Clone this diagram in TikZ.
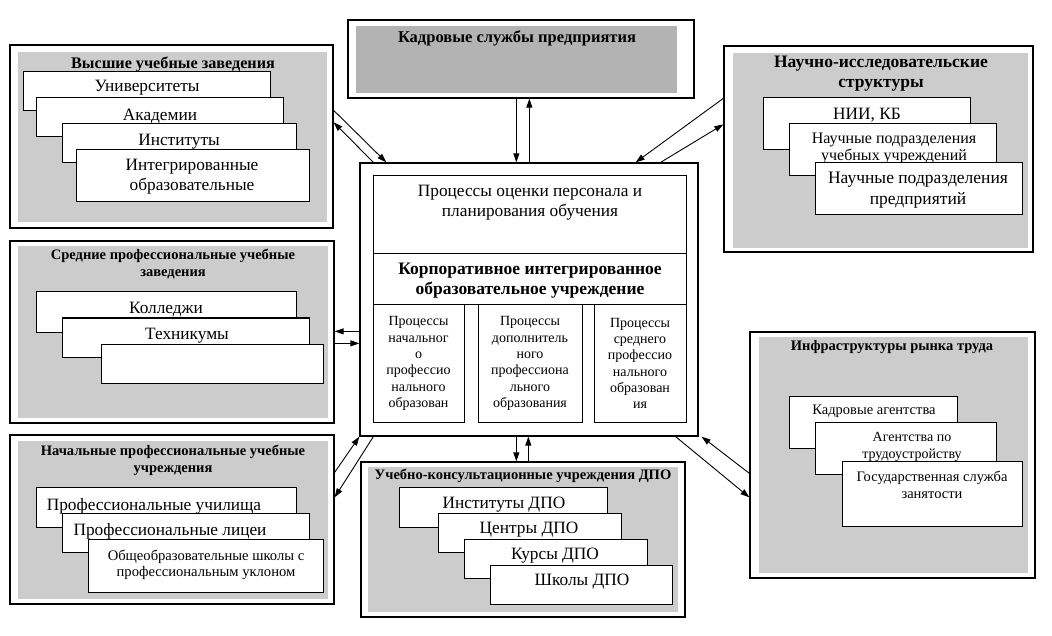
\documentclass[tikz,border=0pt]{standalone}
\usepackage{fontspec}
\setmainfont{Liberation Serif}
\usetikzlibrary{arrows.meta,fit,calc}
\definecolor{lgray}{HTML}{CCCCCC}
\definecolor{dgray}{HTML}{B3B3B3}
\newcommand\FBody{\fontsize{17.3}{20}\selectfont}
\newcommand\FMid{\fontsize{16}{17}\selectfont}
\newcommand\FSmall{\fontsize{14}{16.3}\selectfont}
\newcommand\FHead{\bfseries\fontsize{14.5}{17}\selectfont}
\newcommand\FHeadL{\bfseries\fontsize{17.5}{20}\selectfont}
\begin{document}
\begin{tikzpicture}[x=1pt,y=-1pt,
  outer/.style={draw, line width=1.3pt, fill=white, inner sep=0pt},
  bg/.style={fill=lgray, inner sep=0pt},
  bgd/.style={fill=dgray, inner sep=0pt},
  ibox/.style={draw, line width=1pt, fill=white, inner sep=0pt},
  arr/.style={line width=0.9pt, -{Triangle[length=9pt,width=6pt]}},
  tx/.style={inner sep=0pt, align=center, font=\FBody},
  txm/.style={inner sep=0pt, align=center, font=\FMid},
  txs/.style={inner sep=0pt, align=center, font=\FSmall},
  hd/.style={inner sep=0pt, align=center, font=\FHead},
  hdl/.style={inner sep=0pt, align=center, font=\FHeadL}]
\fill[white] (0,0) rectangle (1052,636);
\useasboundingbox (0,0) rectangle (1052,636);

% ---------- Box 1: higher education ----------
\node[outer, fit={(10,45) (333,228)}] (b1) {};
\node[bg, fit={(18,52) (327,222)}] (b1g) {};
\node[hd, font=\bfseries\fontsize{16.2}{18}\selectfont] (b1h) at (173,64) {Высшие учебные заведения};
\node[ibox, fit={(23,72) (270,111)}] (b1a) {};
\node[tx] (b1at) at (147,88) {Университеты};
\node[ibox, fit={(36,98) (283,137)}] (b1b) {};
\node[tx] (b1bt) at (160,116) {Академии};
\node[ibox, fit={(62,124) (296,163)}] (b1c) {};
\node[tx] (b1ct) at (179,142) {Институты};
\node[ibox, fit={(76,150) (309,202)}] (b1d) {};
\node[tx] (b1dt) at (192,177) {Интегрированные\\образовательные};

% ---------- Box 2: secondary vocational ----------
\node[outer, fit={(10,241) (334,423)}] (b2) {};
\node[bg, fit={(18,246) (328,418)}] (b2g) {};
\node[hd] (b2h) at (173,264) {Средние профессиональные учебные\\заведения};
\node[ibox, fit={(36,292) (296,332)}] (b2a) {};
\node[tx] (b2at) at (166,310) {Колледжи};
\node[ibox, fit={(62,318) (309,357)}] (b2b) {};
\node[tx] (b2bt) at (187,336) {Техникумы};
\node[ibox, fit={(101,344) (323,383)}] (b2c) {};

% ---------- Box 3: initial vocational ----------
\node[outer, fit={(10,435) (334,604)}] (b3) {};
\node[bg, fit={(18,441) (328,599)}] (b3g) {};
\node[hd] (b3h) at (173,460) {Начальные профессиональные учебные\\учреждения};
\node[ibox, fit={(36,487) (296,527)}] (b3a) {};
\node[tx] (b3at) at (154,506) {Профессиональные училища};
\node[ibox, fit={(62,513) (309,552)}] (b3b) {};
\node[tx] (b3bt) at (170,531) {Профессиональные лицеи};
\node[ibox, fit={(88,539) (323,592)}] (b3c) {};
\node[txs, font=\fontsize{14.6}{16}\selectfont] (b3ct) at (206,565) {Общеобразовательные школы с\\профессиональным уклоном};

% ---------- Top: HR services ----------
\node[outer, fit={(348,20) (694,98)}] (kd) {};
\node[bgd, fit={(356,26) (677,93)}] (kdg) {};
\node[hd, font=\bfseries\fontsize{16.5}{18}\selectfont] (kdh) at (517,38) {Кадровые службы предприятия};

% ---------- Center ----------
\node[outer, fit={(360,163) (698,436)}] (c) {};
\node[ibox, fit={(373,176) (686,254)}] (ctop) {};
\node[tx] (ctopt) at (530,203) {Процессы оценки персонала и\\планирования обучения};
\node[ibox, fit={(373,254) (686,305)}] (ckor) {};
\node[hdl] (ckort) at (530,281) {Корпоративное интегрированное\\образовательное учреждение};
\node[ibox, fit={(373,305) (464,422)}] (cl) {};
\node[txs] (clt) at (cl.center) {Процессы\\начальног\\о\\профессио\\нального\\образован};
\node[ibox, fit={(478,305) (582,422)}] (cm) {};
\node[txs] (cmt) at (cm.center) {Процессы\\дополнитель\\ного\\профессиона\\льного\\образования};
\node[ibox, fit={(594,305) (686,422)}] (cr) {};
\node[txs] (crt) at (cr.center) {Процессы\\среднего\\профессио\\нального\\образован\\ия};

% ---------- Right top: research ----------
\node[outer, fit={(724,46) (1033,252)}] (nr) {};
\node[bg, fit={(733,53) (1028,248)}] (nrg) {};
\node[hdl] (nrh) at (881,74) {Научно-исследовательские\\структуры};
\node[ibox, fit={(763,98) (970,150)}] (nra) {};
\node[tx] (nrat) at (867,115) {НИИ, КБ};
\node[ibox, fit={(789,124) (996,176)}] (nrb) {};
\node[txm] (nrbt) at (894,148) {Научные подразделения\\учебных учреждений};
\node[ibox, fit={(815,163) (1022,215)}] (nrc) {};
\node[tx, font=\fontsize{17.5}{21}\selectfont] (nrct) at (918,190) {Научные подразделения\\предприятий};

% ---------- Right middle: labour market ----------
\node[outer, fit={(750,332) (1035,578)}] (lm) {};
\node[bg, fit={(759,337) (1028,573)}] (lmg) {};
\node[hd] (lmh) at (892,347) {Инфраструктуры рынка труда};
\node[ibox, fit={(789,396) (957,448)}] (lma) {};
\node[txs, font=\fontsize{14.5}{17}\selectfont] (lmat) at (874,411) {Кадровые агентства};
\node[ibox, fit={(815,422) (996,474)}] (lmb) {};
\node[txs] (lmbt) at (912,447) {Агентства по\\трудоустройству};
\node[ibox, fit={(842,461) (1022,526)}] (lmc) {};
\node[txs, font=\fontsize{14.5}{16.5}\selectfont] (lmct) at (932,485) {Государственная служба\\занятости};

% ---------- Bottom: DPO ----------
\node[outer, fit={(361,462) (685,617)}] (dp) {};
\node[bg, fit={(368,467) (678,612)}] (dpg) {};
\node[hd] (dph) at (523,476) {Учебно-консультационные учреждения ДПО};
\node[ibox, fit={(399,487) (607,527)}] (dpa) {};
\node[tx] (dpat) at (504,505) {Институты ДПО};
\node[ibox, fit={(438,513) (621,552)}] (dpb) {};
\node[tx] (dpbt) at (529,530) {Центры ДПО};
\node[ibox, fit={(464,539) (647,578)}] (dpc) {};
\node[tx] (dpct) at (555,556) {Курсы ДПО};
\node[ibox, fit={(490,565) (672,604)}] (dpd) {};
\node[tx] (dpdt) at (582,582) {Школы ДПО};

% ---------- Connectors ----------
% box1 <-> center
\draw[arr] ([yshift=-66pt]b1.north east) -- ([xshift=27pt]c.north west);
\draw[arr] ([xshift=14pt]c.north west) -- ([yshift=-78pt]b1.north east);
% box2 <-> center
\draw[arr] ([yshift=-169pt]c.north west) -- ([yshift=-91pt]b2.north east);
\draw[arr] ([yshift=-103pt]b2.north east) -- ([yshift=-181pt]c.north west);
% box3 <-> center
\draw[arr] ([yshift=-38pt]b3.north east) -- (c.south west);
\draw[arr] ([xshift=14pt]c.south west) -- ([yshift=-63pt]b3.north east);
% HR <-> center
\draw[arr] ([xshift=169pt]kd.south west) -- ([xshift=157pt]c.north west);
\draw[arr] ([xshift=170pt]c.north west) -- ([xshift=182pt]kd.south west);
% research <-> center
\draw[arr] ([yshift=-53pt]nr.north west) -- ([xshift=-63pt]c.north east);
\draw[arr] ([xshift=-38pt]c.north east) -- ([yshift=-79pt]nr.north west);
% labour market <-> center
\draw[arr] ([yshift=-142pt]lm.north west) -- ([xshift=3pt]c.south east);
\draw[arr] ([xshift=-23pt]c.south east) -- ([yshift=-166pt]lm.north west);
% DPO <-> center
\draw[arr] ([xshift=157pt]c.south west) -- ([xshift=156pt]dp.north west);
\draw[arr] ([xshift=168pt]dp.north west) -- ([xshift=169pt]c.south west);
\end{tikzpicture}
\end{document}
